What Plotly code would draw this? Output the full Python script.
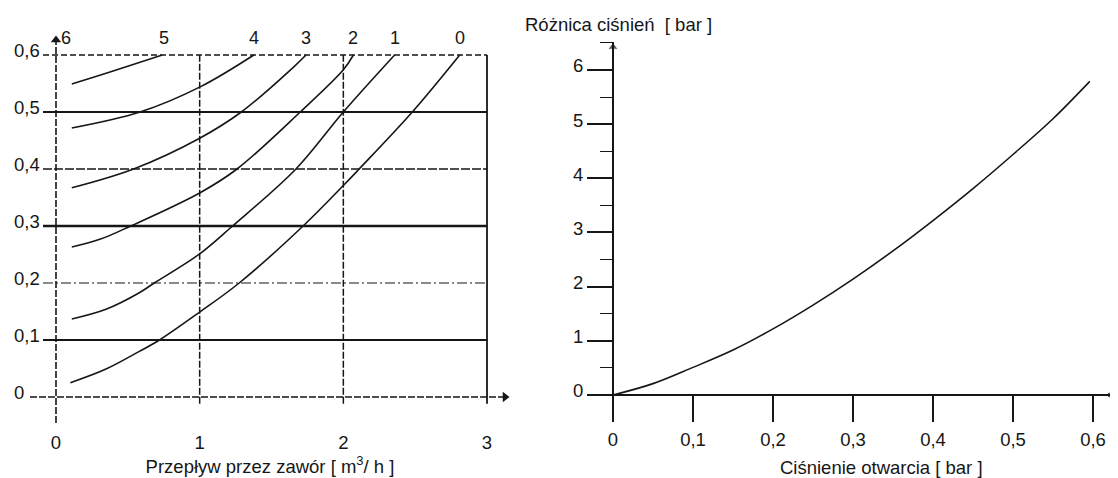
import plotly.graph_objects as go

W, H = 1118, 478
OFF = 8                      # the page body margin moves the figure by 8 px
INK = "#161616"
FONT = "Liberation Sans, Arial, sans-serif"

# ---------------- data: left chart (curves 0..5) ----------------
c0_x = [0.10, 0.348, 0.58, 0.72, 1.00, 1.275, 1.72, 2.00, 2.11, 2.48, 2.81]
c0_y = [0.025, 0.049, 0.080, 0.100, 0.149, 0.200, 0.300, 0.371, 0.400, 0.500, 0.600]
c1_x = [0.11, 0.348, 0.58, 0.684, 1.00, 1.229, 1.67, 2.00, 2.357]
c1_y = [0.137, 0.154, 0.183, 0.200, 0.251, 0.300, 0.400, 0.500, 0.600]
c2_x = [0.11, 0.31, 0.52, 1.00, 1.26, 1.70, 2.00, 2.07]
c2_y = [0.263, 0.277, 0.300, 0.358, 0.400, 0.500, 0.574, 0.600]
c3_x = [0.11, 0.54, 1.00, 1.29, 1.65, 1.74]
c3_y = [0.367, 0.400, 0.454, 0.500, 0.578, 0.600]
c4_x = [0.11, 0.585, 1.01, 1.377]
c4_y = [0.472, 0.500, 0.545, 0.600]
c5_x = [0.11, 0.376, 0.74]
c5_y = [0.549, 0.570, 0.600]

curve_labels = ["0", "1", "2", "3", "4", "5", "6"]
curve_label_x = [2.81, 2.357, 2.07, 1.74, 1.377, 0.75, 0.07]

left_x_ticks = [0, 1, 2, 3]
left_x_ticktext = ["0", "1", "2", "3"]
left_y_ticks = [0, 0.1, 0.2, 0.3, 0.4, 0.5, 0.6]
left_y_ticktext = ["0", "0,1", "0,2", "0,3", "0,4", "0,5", "0,6"]
grid_h_values = [0.1, 0.2, 0.3, 0.4, 0.5, 0.6]
grid_v_values = [1, 2, 3]

# ---------------- data: right chart ----------------
r_x = [0, 0.05, 0.10, 0.15, 0.20, 0.25, 0.30, 0.35, 0.40, 0.45, 0.50, 0.55, 0.596]
r_y = [0, 0.21, 0.51, 0.83, 1.22, 1.66, 2.14, 2.66, 3.22, 3.81, 4.44, 5.10, 5.79]

right_x_ticks = [0, 0.1, 0.2, 0.3, 0.4, 0.5, 0.6]
right_x_ticktext = ["0", "0,1", "0,2", "0,3", "0,4", "0,5", "0,6"]
right_y_ticks = [0, 1, 2, 3, 4, 5, 6]
right_y_ticktext = ["0", "1", "2", "3", "4", "5", "6"]

# ---------------- styles / geometry ----------------
grid_h_style = {0.1: ("solid", 2.0), 0.2: ("10px,3px,2px,3px", 1.2), 0.3: ("solid", 2.6),
                0.4: ("9px,2px", 1.6), 0.5: ("solid", 2.0), 0.6: ("6px,3px", 1.4)}
grid_v_style = {1: ("7px,2px", 1.5), 2: ("7px,2px", 1.5), 3: ("solid", 1.8)}

# reference-pixel geometry (converted to figure pixels by subtracting OFF)
LX0, LXPU = 56, 143.67
LY0, LYPU = 397, 570.0
L_left, L_right, L_top, L_bot = 30, 510, 35, 423
RX0, RXPU = 613, 800.0
RY0, RYPU = 395, 54.17
R_left, R_right, R_top, R_bot = 591, 1113, 42, 420


def px(p):
    return (p - OFF) / W


def py(p):
    return 1 - (p - OFF) / H


lx_rng = [(L_left - LX0) / LXPU, (L_right - LX0) / LXPU]
ly_rng = [(LY0 - L_bot) / LYPU, (LY0 - L_top) / LYPU]
rx_rng = [(R_left - RX0) / RXPU, (R_right - RX0) / RXPU]
ry_rng = [(RY0 - R_bot) / RYPU, (RY0 - R_top) / RYPU]

fig = go.Figure()

curves = [(c0_x, c0_y), (c1_x, c1_y), (c2_x, c2_y), (c3_x, c3_y), (c4_x, c4_y), (c5_x, c5_y)]
for i, (xs, ys) in enumerate(curves):
    fig.add_trace(go.Scatter(x=xs, y=ys, mode="lines", name=curve_labels[i],
                             line=dict(color=INK, width=1.6, shape="spline", smoothing=1.0),
                             xaxis="x", yaxis="y", showlegend=False, hoverinfo="skip"))

fig.add_trace(go.Scatter(x=r_x, y=r_y, mode="lines",
                         line=dict(color=INK, width=1.6, shape="spline", smoothing=1.0),
                         xaxis="x2", yaxis="y2", showlegend=False, hoverinfo="skip"))

# arrow heads at the axis ends
fig.add_trace(go.Scatter(x=[0, lx_rng[1] - 5 / LXPU], y=[ly_rng[1] - 5 / LYPU, 0], mode="markers",
                         marker=dict(symbol=["triangle-up", "triangle-right"], size=9, color=INK),
                         xaxis="x", yaxis="y", cliponaxis=False, showlegend=False, hoverinfo="skip"))
fig.add_trace(go.Scatter(x=[0, rx_rng[1] - 3 / RXPU], y=[ry_rng[1] - 5 / RYPU, 0], mode="markers",
                         marker=dict(symbol=["triangle-up", "circle"], size=[9, 6], color=INK),
                         xaxis="x2", yaxis="y2", cliponaxis=False, showlegend=False, hoverinfo="skip"))

shapes = []
gx0 = (43 - LX0) / LXPU
for v in grid_h_values:
    dash, w = grid_h_style[v]
    shapes.append(dict(type="line", xref="x", yref="y", x0=gx0, x1=3, y0=v, y1=v,
                       line=dict(color=INK, width=w, dash=dash)))
for v in grid_v_values:
    dash, w = grid_v_style[v]
    shapes.append(dict(type="line", xref="x", yref="y", x0=v, x1=v, y0=-0.012, y1=0.6,
                       line=dict(color=INK, width=w, dash=dash)))
shapes.append(dict(type="line", xref="x", yref="y", x0=lx_rng[0], x1=lx_rng[1] - 6 / LXPU,
                   y0=0, y1=0, line=dict(color=INK, width=1.6, dash="7px,2px")))
shapes.append(dict(type="line", xref="x", yref="y", x0=0, x1=0, y0=ly_rng[0],
                   y1=ly_rng[1] - 6 / LYPU, line=dict(color=INK, width=1.6, dash="7px,2px")))

annotations = []
for t, xv in zip(curve_labels, curve_label_x):
    annotations.append(dict(x=xv, y=0.6, xref="x", yref="y", text=t, showarrow=False,
                            yshift=17, font=dict(family=FONT, size=18, color=INK)))
annotations.append(dict(x=px(881), y=py(467), xref="paper", yref="paper",
                        text="Ciśnienie otwarcia [ bar ]", showarrow=False,
                        xanchor="center", yanchor="middle",
                        font=dict(family=FONT, size=18.5, color=INK)))
annotations.append(dict(x=px(523), y=py(25), xref="paper", yref="paper",
                        text="Różnica ciśnień  [ bar ]", showarrow=False,
                        xanchor="left", yanchor="middle",
                        font=dict(family=FONT, size=18.5, color=INK)))

tickfont = dict(family=FONT, size=18.5, color=INK)

fig.update_layout(
    width=W, height=H, margin=dict(l=0, r=0, t=0, b=0),
    paper_bgcolor="white", plot_bgcolor="white",
    font=dict(family=FONT, color=INK),
    shapes=shapes, annotations=annotations,
    xaxis=dict(domain=[px(L_left), px(L_right)], range=lx_rng, anchor="y",
               tickmode="array", tickvals=left_x_ticks, ticktext=left_x_ticktext,
               ticks="", showgrid=False, zeroline=False, showline=False,
               tickfont=tickfont, ticklabelstandoff=6,
               title=dict(text="Przepływ przez zawór [ m<sup>3</sup>/ h ]",
                          font=dict(family=FONT, size=18.5, color=INK), standoff=8)),
    yaxis=dict(domain=[py(L_bot), py(L_top)], range=ly_rng, anchor="free",
               position=px(10), ticklabelposition="inside", ticklabeloverflow="allow",
               tickmode="array", tickvals=left_y_ticks, ticktext=left_y_ticktext,
               ticks="", showgrid=False, zeroline=False, showline=False,
               tickfont=tickfont, ticklabelshift=-4),
    xaxis2=dict(domain=[px(R_left), px(R_right)], range=rx_rng, anchor="free",
                position=py(RY0), tickmode="array", tickvals=right_x_ticks,
                ticktext=right_x_ticktext, ticks="outside", ticklen=26, tickwidth=1.6,
                tickcolor=INK, showline=True, linewidth=2, linecolor=INK,
                showgrid=False, zeroline=False, tickfont=tickfont, ticklabelstandoff=2),
    yaxis2=dict(domain=[py(R_bot), py(R_top)], range=ry_rng, anchor="free",
                position=px(RX0), tickmode="array", tickvals=right_y_ticks,
                ticktext=right_y_ticktext, ticks="outside", ticklen=25, tickwidth=1.6,
                tickcolor=INK, showline=True, linewidth=2, linecolor=INK,
                minor=dict(ticks="outside", ticklen=12, tick0=0, dtick=0.5,
                           tickwidth=1.4, tickcolor=INK, showgrid=False),
                showgrid=False, zeroline=False, tickfont=tickfont, ticklabelshift=-4),
)

fig.write_html("out.html")
